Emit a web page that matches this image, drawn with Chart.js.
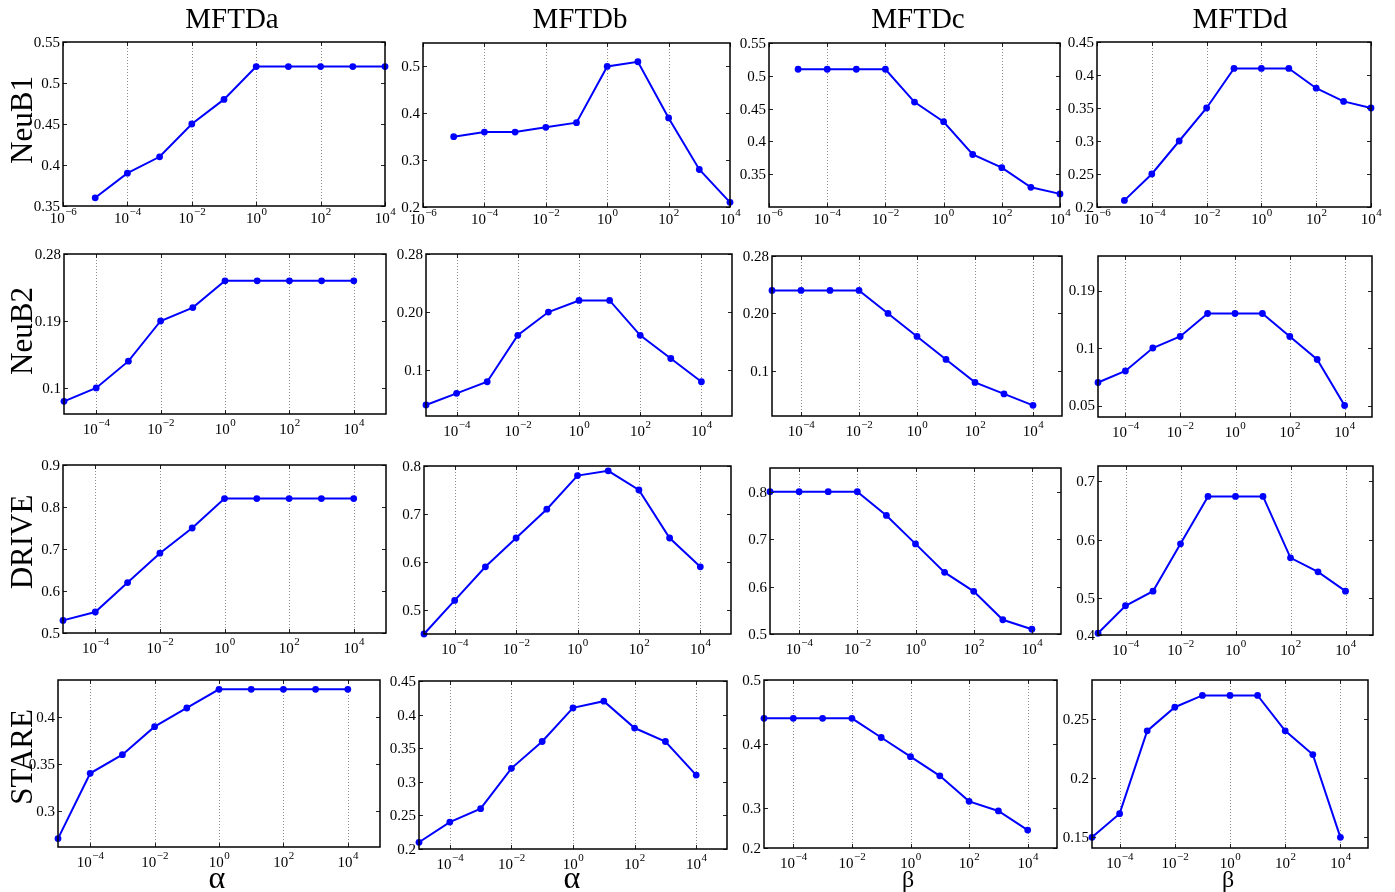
<!DOCTYPE html>
<html>
<head>
<meta charset="utf-8">
<script src="https://cdn.jsdelivr.net/npm/chart.js@4.4.1/dist/chart.umd.min.js"></script>
<style>
  html, body { margin: 0; padding: 0; background: #fff; }
  #page { position: relative; width: 1395px; height: 892px; overflow: hidden; font-family: "Liberation Serif", "Times New Roman", serif; color: #000; }
  #page canvas { position: absolute; }
  .txt { position: absolute; white-space: nowrap; line-height: 1; }
</style>
</head>
<body>
<div id="page"></div>
<script>
// parameter values (same for every panel)
const params = [1e-5, 1e-4, 1e-3, 1e-2, 1e-1, 1e0, 1e1, 1e2, 1e3, 1e4];

const methods = ["MFTDa", "MFTDb", "MFTDc", "MFTDd"];
const datasets = ["NeuB1", "NeuB2", "DRIVE", "STARE"];
const xNames = ["α", "α", "β", "β"];

// NeuB1
const neuB1_a = [0.36, 0.39, 0.41, 0.45, 0.48, 0.52, 0.52, 0.52, 0.52, 0.52];
const neuB1_b = [0.35, 0.36, 0.36, 0.37, 0.38, 0.50, 0.51, 0.39, 0.28, 0.21];
const neuB1_c = [0.51, 0.51, 0.51, 0.51, 0.46, 0.43, 0.38, 0.36, 0.33, 0.32];
const neuB1_d = [0.21, 0.25, 0.30, 0.35, 0.41, 0.41, 0.41, 0.38, 0.36, 0.35];
// NeuB2
const neuB2_a = [0.082, 0.10, 0.136, 0.19, 0.208, 0.244, 0.244, 0.244, 0.244, 0.244];
const neuB2_b = [0.04, 0.06, 0.08, 0.16, 0.20, 0.22, 0.22, 0.16, 0.12, 0.08];
const neuB2_c = [0.24, 0.24, 0.24, 0.24, 0.20, 0.16, 0.12, 0.08, 0.06, 0.04];
const neuB2_d = [0.07, 0.08, 0.10, 0.11, 0.13, 0.13, 0.13, 0.11, 0.09, 0.05];
// DRIVE
const drive_a = [0.53, 0.55, 0.62, 0.69, 0.75, 0.82, 0.82, 0.82, 0.82, 0.82];
const drive_b = [0.45, 0.52, 0.59, 0.65, 0.71, 0.78, 0.79, 0.75, 0.65, 0.59];
const drive_c = [0.80, 0.80, 0.80, 0.80, 0.75, 0.69, 0.63, 0.59, 0.53, 0.51];
const drive_d = [0.44, 0.487, 0.512, 0.593, 0.674, 0.674, 0.674, 0.569, 0.545, 0.512];
// STARE
const stare_a = [0.27, 0.34, 0.36, 0.39, 0.41, 0.43, 0.43, 0.43, 0.43, 0.43];
const stare_b = [0.21, 0.24, 0.26, 0.32, 0.36, 0.41, 0.42, 0.38, 0.36, 0.31];
const stare_c = [0.44, 0.44, 0.44, 0.44, 0.41, 0.38, 0.35, 0.31, 0.295, 0.265];
const stare_d = [0.15, 0.17, 0.24, 0.26, 0.27, 0.27, 0.27, 0.24, 0.22, 0.15];

// x tick exponents
const xExpTop = [-6, -4, -2, 0, 2, 4];
const xExpRest = [-4, -2, 0, 2, 4];

// y axis ranges, tick values and tick labels
const yRange = [
  [[0.35, 0.55], [0.2, 0.55], [0.30, 0.55], [0.2, 0.45]],
  [[0.065, 0.28], [0.021, 0.30], [0.0215, 0.30], [0.04, 0.18]],
  [[0.5, 0.9], [0.45, 0.8], [0.5, 0.85], [0.437, 0.726]],
  [[0.261, 0.44], [0.2, 0.45], [0.237, 0.5], [0.141, 0.283]]
];
const yTicks = [
  [[0.35, 0.4, 0.45, 0.5, 0.55], [0.2, 0.3, 0.4, 0.5], [0.35, 0.4, 0.45, 0.5, 0.55], [0.2, 0.25, 0.3, 0.35, 0.4, 0.45]],
  [[0.1, 0.19, 0.28], [0.1, 0.2, 0.3], [0.1, 0.2, 0.3], [0.05, 0.1, 0.15]],
  [[0.5, 0.6, 0.7, 0.8, 0.9], [0.5, 0.6, 0.7, 0.8], [0.5, 0.6, 0.7, 0.8], [0.437, 0.5, 0.6, 0.7]],
  [[0.3, 0.35, 0.4], [0.2, 0.25, 0.3, 0.35, 0.4, 0.45], [0.237, 0.3, 0.4, 0.5], [0.15, 0.2, 0.25]]
];
const yLabels = [
  [["0.35", "0.4", "0.45", "0.5", "0.55"], ["0.2", "0.3", "0.4", "0.5"], ["0.35", "0.4", "0.45", "0.5", "0.55"], ["0.2", "0.25", "0.3", "0.35", "0.4", "0.45"]],
  [["0.1", "0.19", "0.28"], ["0.1", "0.20", "0.28"], ["0.1", "0.20", "0.28"], ["0.05", "0.1", "0.19"]],
  [["0.5", "0.6", "0.7", "0.8", "0.9"], ["0.5", "0.6", "0.7", "0.8"], ["0.5", "0.6", "0.7", "0.8"], ["0.4", "0.5", "0.6", "0.7"]],
  [["0.3", "0.35", "0.4"], ["0.2", "0.25", "0.3", "0.35", "0.4", "0.45"], ["0.2", "0.3", "0.4", "0.5"], ["0.15", "0.2", "0.25"]]
];

const series = [
  [neuB1_a, neuB1_b, neuB1_c, neuB1_d],
  [neuB2_a, neuB2_b, neuB2_c, neuB2_d],
  [drive_a, drive_b, drive_c, drive_d],
  [stare_a, stare_b, stare_c, stare_d]
];

// plot boxes on the page [left, top, right, bottom]
const boxes = [
  [[63, 42, 385, 206], [423, 43, 730, 207], [769, 43, 1060, 207], [1097, 42, 1371, 207]],
  [[64, 254, 386, 414], [426, 254, 732, 416], [772, 256, 1062, 416], [1098, 256, 1372, 417]],
  [[63, 465, 386, 633], [424, 466, 731, 634], [770, 468, 1061, 634], [1098, 466, 1373, 635]],
  [[58, 680, 380, 847], [419, 681, 727, 849], [764, 680, 1057, 848], [1092, 680, 1368, 848]]
];

const page = document.getElementById("page");
const SERIF = '"Liberation Serif", "Times New Roman", serif';
const PAD = { l: 56, t: 10, r: 16, b: 36 };

const matlabFrame = {
  id: "matlabFrame",
  beforeDatasetsDraw(chart, args, o) {
    const { ctx, chartArea: a, scales: { x } } = chart;
    ctx.save();
    ctx.strokeStyle = "#8c8c8c";
    ctx.lineWidth = 1;
    ctx.setLineDash([1, 2]);
    o.exps.forEach((e) => {
      const px = Math.round(x.getPixelForValue(Math.pow(10, e))) + 0.5;
      if (px <= a.left + 1 || px >= a.right - 1) return;
      ctx.beginPath();
      ctx.moveTo(px, a.top);
      ctx.lineTo(px, a.bottom);
      ctx.stroke();
    });
    ctx.restore();
  },
  afterDraw(chart, args, o) {
    const { ctx, chartArea: a, scales: { x, y } } = chart;
    ctx.save();
    // inward ticks
    ctx.strokeStyle = "#222";
    ctx.lineWidth = 1;
    ctx.beginPath();
    o.yTicks.forEach((v) => {
      const py = Math.round(y.getPixelForValue(v)) + 0.5;
      ctx.moveTo(a.left, py); ctx.lineTo(a.left + 4, py);
      ctx.moveTo(a.right, py); ctx.lineTo(a.right - 4, py);
    });
    o.exps.forEach((e) => {
      const px = Math.round(x.getPixelForValue(Math.pow(10, e))) + 0.5;
      ctx.moveTo(px, a.bottom); ctx.lineTo(px, a.bottom - 4);
      ctx.moveTo(px, a.top); ctx.lineTo(px, a.top + 4);
    });
    ctx.stroke();
    // box
    ctx.strokeStyle = "#000";
    ctx.lineWidth = 1.5;
    ctx.strokeRect(a.left, a.top, a.right - a.left, a.bottom - a.top);
    // y labels
    ctx.fillStyle = "#000";
    ctx.font = "15px " + SERIF;
    ctx.textAlign = "right";
    ctx.textBaseline = "middle";
    o.yTicks.forEach((v, i) => ctx.fillText(o.yLabels[i], a.left - 3, y.getPixelForValue(v) + 1));
    // x labels 10^n
    ctx.textAlign = "left";
    ctx.textBaseline = "alphabetic";
    o.exps.forEach((e) => {
      const px = x.getPixelForValue(Math.pow(10, e));
      const sup = e < 0 ? "\u2212" + (-e) : String(e);
      ctx.font = "15px " + SERIF;
      const w1 = ctx.measureText("10").width;
      ctx.font = "11px " + SERIF;
      const w2 = ctx.measureText(sup).width;
      const left = px - (w1 + w2) / 2;
      ctx.font = "15px " + SERIF;
      ctx.fillText("10", left, a.bottom + o.xOff);
      ctx.font = "11px " + SERIF;
      ctx.fillText(sup, left + w1 + 0.5, a.bottom + o.xOff - 8);
    });
    ctx.restore();
  }
};

function addText(str, size, left, top) {
  const d = document.createElement("div");
  d.className = "txt";
  d.textContent = str;
  d.style.fontSize = size + "px";
  d.style.left = left + "px";
  d.style.top = top + "px";
  page.appendChild(d);
  return d;
}

function panel(row, col) {
  const [l, t, r, b] = boxes[row][col];
  const canvas = document.createElement("canvas");
  canvas.width = r - l + PAD.l + PAD.r;
  canvas.height = b - t + PAD.t + PAD.b;
  canvas.style.left = l - PAD.l + "px";
  canvas.style.top = t - PAD.t + "px";
  page.appendChild(canvas);

  const exps = row === 0 ? xExpTop : xExpRest;
  const xMin = row === 0 ? 1e-6 : 1e-5;
  const xMax = row === 0 ? 1e4 : 1e5;
  const ticksY = yTicks[row][col];

  new Chart(canvas, {
    type: "line",
    data: {
      datasets: [{
        data: params.map((p, i) => ({ x: p, y: series[row][col][i] })),
        borderColor: "#0000ff",
        backgroundColor: "#0000ff",
        borderWidth: 2,
        pointRadius: 3.4,
        pointBorderWidth: 0,
        pointBackgroundColor: "#0000ff",
        tension: 0,
        clip: false
      }]
    },
    options: {
      responsive: false,
      animation: false,
      events: [],
      layout: { padding: { left: 0, top: PAD.t, right: PAD.r, bottom: 0 }, autoPadding: false },
      scales: {
        x: {
          type: "logarithmic",
          min: xMin,
          max: xMax,
          afterBuildTicks: (s) => { s.ticks = exps.map((e) => ({ value: Math.pow(10, e) })); },
          ticks: { display: false },
          grid: { display: false },
          border: { display: false },
          afterFit: (s) => { s.height = PAD.b; }
        },
        y: {
          type: "linear",
          min: yRange[row][col][0],
          max: yRange[row][col][1],
          afterBuildTicks: (s) => { s.ticks = ticksY.map((v) => ({ value: v })); },
          ticks: { display: false },
          grid: { display: false },
          border: { display: false },
          afterFit: (s) => { s.width = PAD.l; }
        }
      },
      plugins: {
        legend: { display: false },
        tooltip: { enabled: false },
        matlabFrame: { exps, yTicks: ticksY, yLabels: yLabels[row][col], xOff: row === 0 ? 17 : 20 }
      }
    },
    plugins: [matlabFrame]
  });
}

for (let row = 0; row < 4; row++) {
  for (let col = 0; col < 4; col++) panel(row, col);
}

// column titles
const titleX = [232, 580, 918, 1240];
methods.forEach((m, i) => {
  const d = addText(m, 29, titleX[i], 4);
  d.style.transform = "translateX(-50%)";
});

// row labels (rotated)
const rowY = [120, 331, 542, 757];
datasets.forEach((name, i) => {
  const d = addText(name, 31, 21, rowY[i]);
  d.style.transform = "translate(-50%, -50%) rotate(-90deg)";
});

// x axis names under the bottom row
const xNameX = [217, 572, 908, 1228];
xNames.forEach((n, i) => {
  const big = n === "α";
  const d = addText(n, big ? 32 : 24, xNameX[i], big ? 861 : 867);
  d.style.transform = "translateX(-50%)";
});
</script>
</body>
</html>
